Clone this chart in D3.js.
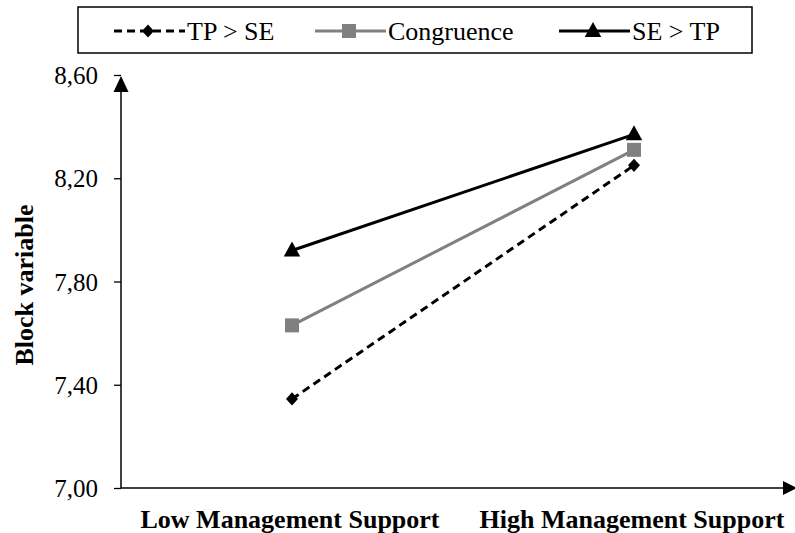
<!DOCTYPE html>
<html>
<head>
<meta charset="utf-8">
<script src="https://cdn.jsdelivr.net/npm/d3@7/dist/d3.min.js"></script>
<style>
html,body{margin:0;padding:0;background:#fff;}
svg{display:block;}
svg text{font-family:"Liberation Serif","Times New Roman","DejaVu Serif",serif !important;fill:#000;}
</style>
</head>
<body>
<svg id="chart" width="795" height="533"></svg>
<script>
const categories = ["Low Management Support", "High Management Support"];
const seriesNames = ["TP > SE", "Congruence", "SE > TP"];
const tpGtSe = [7.345, 8.25];
const congruence = [7.63, 8.31];
const seGtTp = [7.92, 8.37];
const yTicks = [7.00, 7.40, 7.80, 8.20, 8.60];
const yTitle = "Block variable";

const FONT = "'Liberation Serif', 'Times New Roman', 'DejaVu Serif', serif";

const series = [
  {name: seriesNames[0], values: tpGtSe, color: "#000", dash: "8,5", marker: "diamond"},
  {name: seriesNames[1], values: congruence, color: "#808080", dash: null, marker: "square"},
  {name: seriesNames[2], values: seGtTp, color: "#000", dash: null, marker: "triangle"}
];

const svg = d3.select("#chart").attr("font-family", FONT);
const x = d3.scalePoint().domain(categories).range([121, 805]).padding(0.5);
const y = d3.scaleLinear().domain([7.0, 8.6]).range([488, 75]);

// Y axis
const yAxis = d3.axisLeft(y).tickValues(yTicks).tickSize(7).tickPadding(16)
  .tickFormat(d => d3.format(".2f")(d).replace(".", ","));
const gy = svg.append("g").attr("transform", "translate(121,0)").call(yAxis);
gy.attr("font-family", FONT);
gy.select(".domain").remove();
gy.selectAll(".tick line").attr("stroke", "#000").attr("stroke-width", 1.3);
gy.selectAll(".tick text").style("font-size", "25px").style("font-family", FONT).attr("dy", "0.34em");
svg.append("line").attr("x1", 121).attr("x2", 121).attr("y1", y(7.0)).attr("y2", 88)
  .attr("stroke", "#000").attr("stroke-width", 1.5);
svg.append("path").attr("d", `M121,${y(8.6)+1} L113.5,92 L128.5,92 Z`).attr("fill", "#000");

// X axis
svg.append("line").attr("x1", 121).attr("x2", 785).attr("y1", y(7.0)).attr("y2", y(7.0))
  .attr("stroke", "#000").attr("stroke-width", 1.5);
svg.append("path").attr("d", `M797,${y(7.0)} L783,${y(7.0)-7} L783,${y(7.0)+7} Z`).attr("fill", "#000");
svg.selectAll(".xlab").data(categories).enter().append("text")
  .attr("class", "xlab")
  .attr("x", d => x(d) - 2).attr("y", 528)
  .attr("text-anchor", "middle")
  .style("font-family", FONT)
  .style("font-size", "26px").style("font-weight", "bold")
  .text(d => d);

// Y title
svg.append("text").attr("transform", "translate(33,285) rotate(-90)")
  .attr("text-anchor", "middle").style("font-family", FONT)
  .style("font-size", "26px").style("font-weight", "bold")
  .text(yTitle);

function drawMarker(g, type, cx, cy, color, s) {
  if (type === "diamond") {
    g.append("path").attr("d", `M${cx},${cy-s*0.55} L${cx+s*0.5},${cy} L${cx},${cy+s*0.55} L${cx-s*0.5},${cy} Z`).attr("fill", color);
  } else if (type === "square") {
    g.append("rect").attr("x", cx - s/2).attr("y", cy - s/2).attr("width", s).attr("height", s).attr("fill", color);
  } else {
    g.append("path").attr("d", `M${cx},${cy-s*0.6} L${cx+s*0.55},${cy+s*0.4} L${cx-s*0.55},${cy+s*0.4} Z`).attr("fill", color);
  }
}

const line = d3.line().x((d, i) => x(categories[i])).y(d => y(d));
const gl = svg.append("g");
series.forEach(s => {
  gl.append("path").datum(s.values).attr("d", line)
    .attr("fill", "none").attr("stroke", s.color).attr("stroke-width", 3)
    .attr("stroke-dasharray", s.dash);
});
series.forEach(s => {
  s.values.forEach((v, i) => {
    const sz = s.marker === "diamond" ? 12 : (s.marker === "square" ? 14 : 15);
    drawMarker(gl, s.marker, x(categories[i]), y(v), s.color, sz);
  });
});

// Legend
const lg = svg.append("g");
lg.append("rect").attr("x", 78).attr("y", 7).attr("width", 674).attr("height", 46)
  .attr("fill", "#fff").attr("stroke", "#000").attr("stroke-width", 1.5);
const legendX = [114, 315, 559];
series.forEach((s, i) => {
  const lx = legendX[i], ly = 31;
  lg.append("line").attr("x1", lx).attr("x2", lx + 71).attr("y1", ly).attr("y2", ly)
    .attr("stroke", s.color).attr("stroke-width", 3).attr("stroke-dasharray", s.dash);
  const sz = s.marker === "diamond" ? 12 : (s.marker === "square" ? 14 : 15);
  drawMarker(lg, s.marker, lx + 34, ly, s.color, sz);
  lg.append("text").attr("x", lx + 73).attr("y", 40).style("font-family", FONT)
    .style("font-size", "26px").text(s.name);
});
</script>
</body>
</html>
